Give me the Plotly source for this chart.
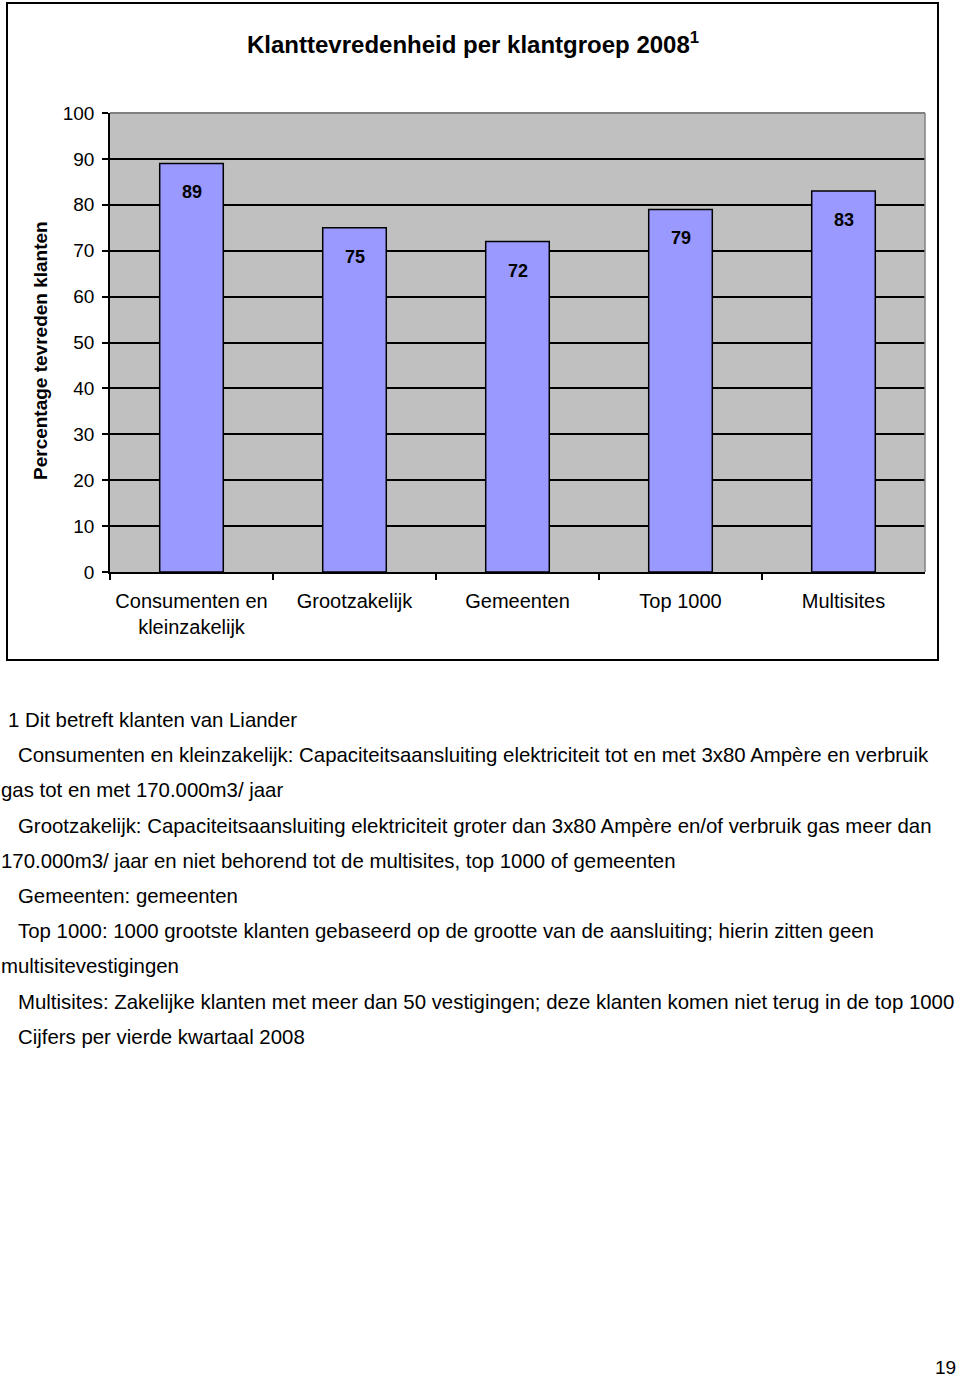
import plotly.graph_objects as go

categories = ["Consumenten en<br>kleinzakelijk", "Grootzakelijk", "Gemeenten", "Top 1000", "Multisites"]
values = [89, 75, 72, 79, 83]
ytick_vals = list(range(0, 101, 10))

title_text = "Klanttevredenheid per klantgroep 2008<sup>1</sup>"
ytitle = "Percentage tevreden klanten"
notes = [
    ("1 Dit betreft klanten van Liander", 6),
    ("Consumenten en kleinzakelijk: Capaciteitsaansluiting elektriciteit tot en met 3x80 Ampère en verbruik", 16),
    ("gas tot en met 170.000m3/ jaar", -1),
    ("Grootzakelijk: Capaciteitsaansluiting elektriciteit groter dan 3x80 Ampère en/of verbruik gas meer dan", 16),
    ("170.000m3/ jaar en niet behorend tot de multisites, top 1000 of gemeenten", -1),
    ("Gemeenten: gemeenten", 16),
    ("Top 1000: 1000 grootste klanten gebaseerd op de grootte van de aansluiting; hierin zitten geen", 16),
    ("multisitevestigingen", -1),
    ("Multisites: Zakelijke klanten met meer dan 50 vestigingen; deze klanten komen niet terug in de top 1000", 16),
    ("Cijfers per vierde kwartaal 2008", 16),
]
page_number = "19"

W, H = 960, 1379
FONT = "Liberation Sans, Arial, sans-serif"

def px(x):
    return x / W

def py(y):
    return 1 - y / H

fig = go.Figure()
fig.add_trace(go.Bar(
    x=categories, y=values,
    marker=dict(color="#9999FF", line=dict(color="#000000", width=1.5)),
    hoverinfo="skip",
))

for c, v in zip(categories, values):
    fig.add_annotation(x=c, y=v, xref="x", yref="y", text=f"<b>{v}</b>",
                       showarrow=False, yshift=-29,
                       font=dict(family=FONT, size=18, color="#000000"))

fig.update_layout(
    width=W, height=H,
    margin=dict(l=0, r=0, t=0, b=0, autoexpand=False),
    paper_bgcolor="white",
    plot_bgcolor="#C0C0C0",
    bargap=0.61,
    showlegend=False,
    font=dict(family=FONT, color="#000000"),
    xaxis=dict(
        domain=[px(110), px(925)],
        automargin=False,
        showline=True, linecolor="#000000", linewidth=1.5,
        ticks="outside", tickson="boundaries", ticklen=6, tickcolor="#000000", tickwidth=1.5,
        tickfont=dict(family=FONT, size=20, color="#000000"),
        ticklabelstandoff=10,
        showgrid=False, fixedrange=True,
    ),
    yaxis=dict(
        domain=[py(572), py(113)],
        automargin=False,
        range=[0, 100],
        tickvals=ytick_vals,
        showline=True, linecolor="#000000", linewidth=1.5,
        ticks="outside", ticklen=6, tickcolor="#000000", tickwidth=1.5,
        tickfont=dict(family=FONT, size=19, color="#000000"),
        showgrid=True, gridcolor="#000000", gridwidth=1.5,
        zeroline=False, fixedrange=True,
        ticklabelstandoff=4,
    ),
    shapes=[
        dict(type="rect", xref="paper", yref="paper",
             x0=px(7), x1=px(938), y0=py(660), y1=py(3),
             line=dict(color="#000000", width=2), layer="above"),
        dict(type="line", xref="x domain", yref="y domain", x0=0, x1=1, y0=1, y1=1,
             line=dict(color="#808080", width=2), layer="above"),
        dict(type="line", xref="x domain", yref="y domain", x0=1, x1=1, y0=0, y1=1,
             line=dict(color="#808080", width=1.5), layer="above"),
    ],
)

fig.add_annotation(xref="paper", yref="paper", x=px(473), y=py(43), text=f"<b>{title_text}</b>",
                   showarrow=False, xanchor="center", yanchor="middle",
                   font=dict(family=FONT, size=24, color="#000000"))
fig.add_annotation(xref="paper", yref="paper", x=px(40), y=py(351), text=f"<b>{ytitle}</b>",
                   showarrow=False, textangle=-90, xanchor="center", yanchor="middle",
                   font=dict(family=FONT, size=19, color="#000000"))

y0 = 720
for i, (t, x) in enumerate(notes):
    fig.add_annotation(xref="paper", yref="paper", x=px(x), y=py(y0 + i * 35.2), text=t,
                       showarrow=False, xanchor="left", yanchor="middle",
                       font=dict(family=FONT, size=20.4, color="#000000"))

fig.add_annotation(xref="paper", yref="paper", x=px(958), y=py(1367), text=page_number,
                   showarrow=False, xanchor="right", yanchor="middle",
                   font=dict(family=FONT, size=19, color="#000000"))

fig.write_html("out.html")
